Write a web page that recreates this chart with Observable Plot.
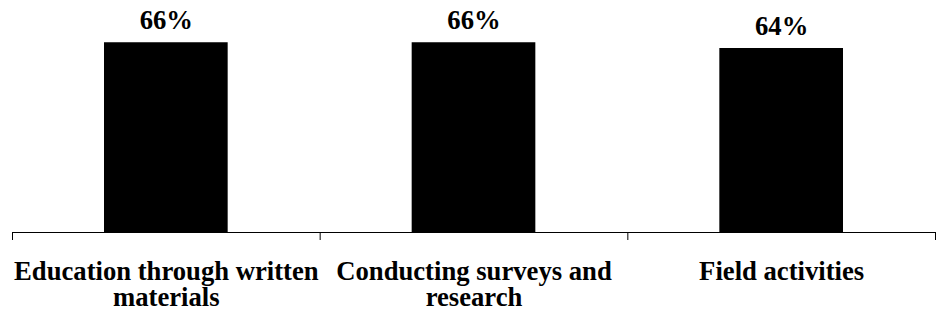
<!DOCTYPE html>
<html>
<head>
<meta charset="utf-8">
<script src="https://cdn.jsdelivr.net/npm/d3@7"></script>
<script src="https://cdn.jsdelivr.net/npm/@observablehq/plot@0.6"></script>
<style>
  html, body { margin: 0; padding: 0; background: #fff; }
  #chart svg { display: block; }
</style>
</head>
<body>
<div id="chart"></div>
<script>
const categories = ["Education through written\nmaterials", "Conducting surveys and\nresearch", "Field activities"];
const values = [66, 66, 64];
const boundaries = [0, 1, 2, 3];

const data = categories.map((c, i) => ({ i, category: c, value: values[i] }));
const serif = "'Liberation Serif', 'Times New Roman', serif";

const chart = Plot.plot({
  width: 938,
  height: 314,
  marginTop: 2,
  marginBottom: 82,
  marginLeft: 12,
  marginRight: 3,
  style: { fontFamily: serif, color: "#000", background: "#fff" },
  x: { domain: [0, 3], axis: null },
  y: { domain: [0, 80], axis: null },
  marks: [
    Plot.rectY(data, { x1: d => d.i, x2: d => d.i + 1, y: "value", fill: "#000", insetLeft: 92, insetRight: 92 }),
    Plot.ruleY([0], { stroke: "#000", strokeWidth: 1 }),
    Plot.axisX({ ticks: boundaries, tickSize: 8, tickFormat: () => "", stroke: "#000", strokeOpacity: 1 }),
    Plot.text(data, { x: d => d.i + 0.5, y: "value", text: d => d.value + "%", lineAnchor: "bottom", dy: -14, fontSize: 26.67, fontWeight: "bold", fontFamily: serif, fill: "#000" }),
    Plot.text(data, { x: d => d.i + 0.5, y: 0, text: "category", lineAnchor: "top", dy: 28.4, fontSize: 26.67, fontWeight: "bold", fontFamily: serif, lineHeight: 0.99, fill: "#000" })
  ]
});
document.getElementById("chart").appendChild(chart);
</script>
</body>
</html>
